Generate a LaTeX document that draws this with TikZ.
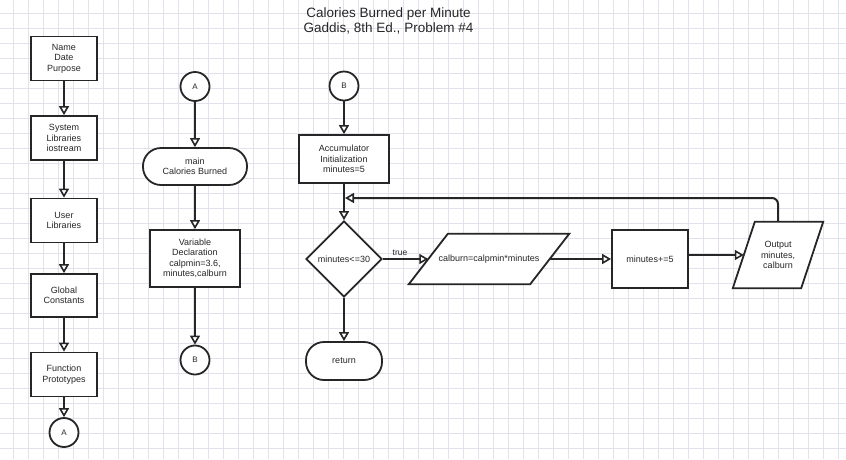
\documentclass[tikz,border=0pt]{standalone}
\usepackage{fontspec}
\setmainfont{Liberation Sans}
\usetikzlibrary{arrows.meta,shapes.geometric}
\pgfdeclarelayer{gridlayer}
\pgfdeclarelayer{background}
\pgfsetlayers{gridlayer,background,main}
\definecolor{gridcol}{HTML}{E2E2EC}
\definecolor{ink}{HTML}{262626}
\tikzset{
  txt/.style={font=\fontsize{9}{10.5}\selectfont, text=ink, align=center, inner sep=1pt},
  shapeline/.style={draw=ink, line width=1.8pt, fill=white},
  procbox/.style={txt, shapeline, rectangle, minimum width=66pt, minimum height=44pt},
  conncircle/.style={txt, shapeline, circle, minimum size=29pt, inner sep=0pt, font=\fontsize{8}{9}\selectfont},
  terminal/.style={txt, shapeline, rectangle, rounded corners=18pt},
  decision/.style={txt, shapeline, diamond, aspect=1, minimum width=76pt, minimum height=76pt, inner sep=0pt},
  iotext/.style={txt, rectangle, draw=none},
  conn/.style={draw=ink, line width=2pt, -{Triangle[open, fill=white, length=9pt, width=10pt, line width=1.6pt]}},
}
\begin{document}
\begin{tikzpicture}[x=1pt,y=-1pt]
\useasboundingbox (0,0) rectangle (846,459);
\begin{pgfonlayer}{gridlayer}
\fill[white] (0,0) rectangle (846,459);
\foreach \i in {0,...,55} {\draw[gridcol, line width=0.9pt] ({13.5+15*\i},0) -- ({13.5+15*\i},459);}
\foreach \j in {0,...,29} {\draw[gridcol, line width=0.9pt] (0,{13.5+15*\j}) -- (846,{13.5+15*\j});}
\end{pgfonlayer}

% title
\node[txt, font=\fontsize{13.5}{15}\selectfont] (title) at (388.5,20.5) {Calories Burned per Minute\\Gaddis, 8th Ed., Problem \#4};

% left column
\node[procbox] (name) at (64,58.5) {Name\\Date\\Purpose};
\node[procbox] (sys) at (64,138) {System\\Libraries\\iostream};
\node[procbox] (user) at (64,220.5) {User\\Libraries};
\node[procbox, minimum height=43pt] (glob) at (64,295.5) {Global\\Constants};
\node[procbox] (func) at (64,374.5) {Function\\Prototypes};
\node[conncircle] (a1) at (64,432.5) {A};
\draw[conn] (name) -- (sys);
\draw[conn] (sys) -- (user);
\draw[conn] (user) -- (glob);
\draw[conn] (glob) -- (func);
\draw[conn] (func) -- (a1);

% middle column
\node[conncircle] (a2) at (195,86.5) {A};
\node[terminal, minimum width=104pt, minimum height=37pt] (main) at (195,166.5) {main\\Calories Burned};
\node[procbox, minimum width=90pt, minimum height=57pt] (var) at (195,258.5) {Variable\\Declaration\\calpmin=3.6,\\minutes,calburn};
\node[conncircle] (b1) at (195,360) {B};
\draw[conn] (a2) -- (main);
\draw[conn] (main) -- (var);
\draw[conn] (var) -- (b1);

% right part
\node[conncircle] (b2) at (344,86) {B};
\node[procbox, minimum width=90pt, minimum height=48pt] (acc) at (344,159) {Accumulator\\Initialization\\minutes=5};
\node[decision] (dec) at (344,259) {minutes<=30};
\node[terminal, minimum width=76pt, minimum height=38pt] (ret) at (344,361) {return};
\node[iotext, minimum width=121pt, minimum height=50pt] (calb) at (489,259) {calburn=calpmin*minutes};
\node[procbox, minimum width=76pt, minimum height=58pt] (mbox) at (650,259) {minutes+=5};
\node[iotext, minimum width=68pt, minimum height=66pt] (out) at (778,255) {Output\\minutes,\\calburn};
\node[txt, font=\fontsize{8.5}{10}\selectfont] (truelbl) at (400,252.5) {true};

\begin{pgfonlayer}{background}
\draw[shapeline] ([xshift=19.5pt]calb.north west) -- ([xshift=19.5pt]calb.north east) -- ([xshift=-19.5pt]calb.south east) -- ([xshift=-19.5pt]calb.south west) -- cycle;
\draw[shapeline] ([xshift=11pt]out.north west) -- ([xshift=11pt]out.north east) -- ([xshift=-11pt]out.south east) -- ([xshift=-11pt]out.south west) -- cycle;
\end{pgfonlayer}

\coordinate (merge) at (344,198);
\draw[conn] (b2) -- (acc);
\draw[conn] (acc) -- (dec);
\draw[conn] (dec) -- (ret);
\draw[conn] (dec.east) -- (calb.west);
\draw[conn] (calb.east) -- (mbox.west);
\draw[conn] (mbox.east |- out.west) -- (out.west);
\draw[conn, rounded corners=6pt, shorten >=1pt] (out.north) |- (merge);
\end{tikzpicture}
\end{document}
